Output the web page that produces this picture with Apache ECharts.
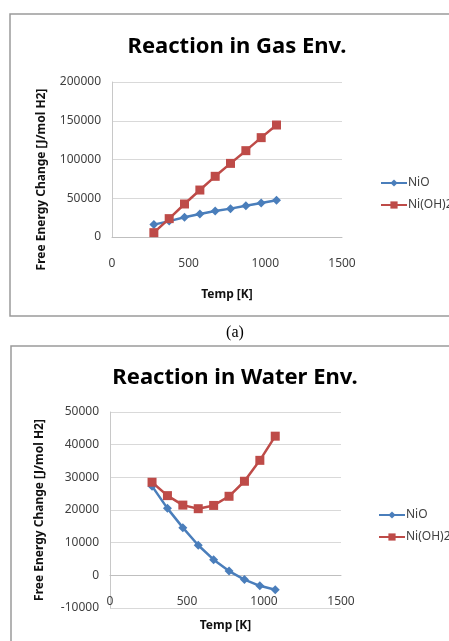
<!DOCTYPE html>
<html>
<head>
<meta charset="utf-8">
<title></title>
<style>
  html, body { margin: 0; padding: 0; background: #fff; }
  #main { width: 449px; height: 641px; }
</style>
</head>
<body>
<div id="main"></div>
<script src="https://cdn.jsdelivr.net/npm/echarts@6/dist/echarts.min.js"></script>
<script>
// temperatures (K) and free energy change (J/mol H2)
var temps = [273, 373, 473, 573, 673, 773, 873, 973, 1073];
var gasNiO = [16000, 20500, 25400, 29700, 33500, 36600, 40400, 43900, 47300];
var gasNiOH2 = [5600, 23700, 42600, 60600, 78300, 95000, 111400, 128200, 144500];
var waterNiO = [27300, 20500, 14600, 9200, 4800, 1300, -1300, -3200, -4400];
var waterNiOH2 = [28500, 24400, 21500, 20400, 21400, 24200, 28800, 35200, 42600];
var seriesNames = ['NiO', 'Ni(OH)2'];
var titles = ['Reaction in Gas Env.', 'Reaction in Water Env.'];

var blue = '#4a7ebb';
var red = '#be4b48';

function pairs(arr) {
  return temps.map(function (t, i) { return [t, arr[i]]; });
}

function plain(v) { return String(v); }

function xAx(idx, gap, off) {
  return {
    type: 'value', gridIndex: idx, min: 0, max: 1500, interval: 500,
    name: 'Temp [K]', nameLocation: 'middle', nameGap: gap,
    nameTextStyle: { fontFamily: 'Noto Sans', fontWeight: 'bold', fontSize: 12, color: '#111' },
    offset: off,
    axisLine: { onZero: false, lineStyle: { color: '#bfbfbf' } },
    axisTick: { show: false },
    axisLabel: { margin: 21, fontFamily: 'Noto Sans', fontSize: 12, color: '#404040', formatter: plain },
    splitLine: { show: false }
  };
}

function yAx(idx, min, max, step, pad) {
  return {
    type: 'value', gridIndex: idx, min: min, max: max, interval: step,
    name: 'Free Energy Change [J/mol H2]', nameLocation: 'middle', nameGap: 64,
    nameTextStyle: { fontFamily: 'Noto Sans', fontWeight: 'bold', fontSize: 12, color: '#111', padding: pad },
    axisLine: { show: true, lineStyle: { color: '#c8c8c8' } },
    axisTick: { show: false },
    axisLabel: { margin: 11, fontFamily: 'Noto Sans', fontSize: 12, color: '#404040', formatter: plain },
    splitLine: { lineStyle: { color: '#d9d9d9' } }
  };
}

function line(name, idx, arr, color, sym, size) {
  return {
    name: name, type: 'line', xAxisIndex: idx, yAxisIndex: idx,
    data: pairs(arr), symbol: sym, symbolSize: size,
    lineStyle: { color: color, width: 2.5 },
    itemStyle: { color: color },
    animation: false
  };
}

var mychart = echarts.init(document.getElementById('main'));
var option = {
  backgroundColor: '#fff',
  graphic: [
    { type: 'rect', shape: { x: 10, y: 14, width: 470, height: 302 }, style: { fill: 'none', stroke: '#9a9a9a', lineWidth: 1.5 } },
    { type: 'rect', shape: { x: 11, y: 346, width: 470, height: 320 }, style: { fill: 'none', stroke: '#9a9a9a', lineWidth: 1.5 } },
    { type: 'text', x: 235, y: 333, style: { text: '(a)', font: '16px "Liberation Serif"', fill: '#000', textAlign: 'center', textVerticalAlign: 'middle' } }
  ],
  title: [
    { text: titles[0], left: 232, top: 31, textAlign: 'center', textStyle: { fontFamily: 'Noto Sans', fontWeight: 'bold', fontSize: 22, color: '#000' } },
    { text: titles[1], left: 230, top: 362, textAlign: 'center', textStyle: { fontFamily: 'Noto Sans', fontWeight: 'bold', fontSize: 22, color: '#000' } }
  ],
  legend: [
    { data: seriesNames, orient: 'vertical', left: 375, top: 172, itemWidth: 26, itemHeight: 9, itemGap: 10,
      textStyle: { fontFamily: 'Noto Sans', fontSize: 12, color: '#404040', padding: [0, 0, 0, -4] } },
    { data: seriesNames.slice(), orient: 'vertical', left: 373, top: 504, itemWidth: 26, itemHeight: 9, itemGap: 10,
      textStyle: { fontFamily: 'Noto Sans', fontSize: 12, color: '#404040', padding: [0, 0, 0, -4] } }
  ],
  grid: [
    { left: 112, top: 82, width: 230, height: 155, outerBoundsMode: 'none', containLabel: false },
    { left: 110, top: 412, width: 231, height: 196, outerBoundsMode: 'none', containLabel: false }
  ],
  xAxis: [xAx(0, 52, 0), xAx(1, 45, -33)],
  yAxis: [yAx(0, 0, 200000, 50000, [0, 40, 0, 0]), yAx(1, -10000, 50000, 10000, [0, 0, 0, 0])],
  series: [
    line(seriesNames[0], 0, gasNiO, blue, 'diamond', 9),
    line(seriesNames[1], 0, gasNiOH2, red, 'rect', 9),
    line(seriesNames[0], 1, waterNiO, blue, 'diamond', 9),
    line(seriesNames[1], 1, waterNiOH2, red, 'rect', 9)
  ]
};
mychart.setOption(option);
</script>
</body>
</html>
